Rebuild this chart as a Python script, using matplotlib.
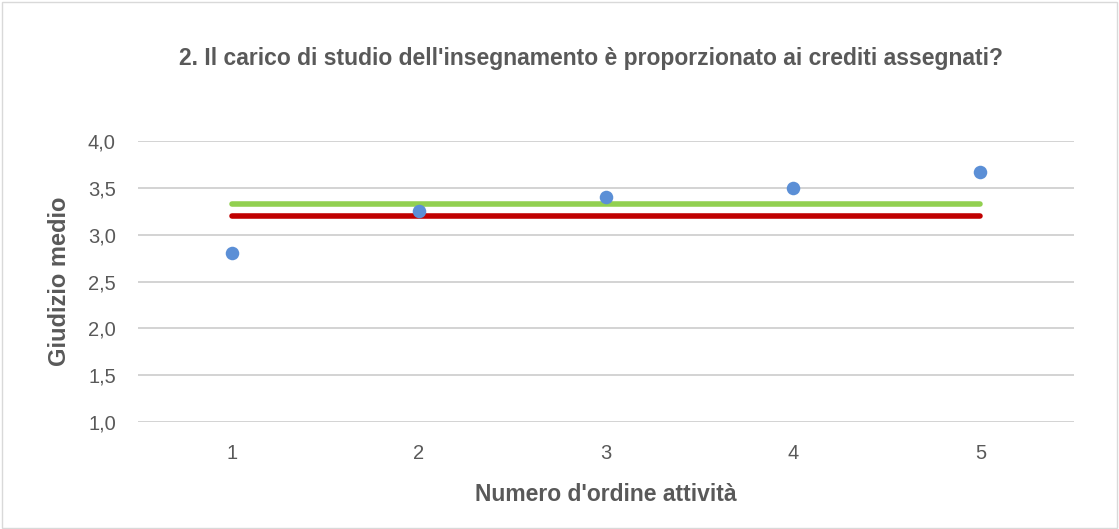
import matplotlib
matplotlib.use('Agg')
import matplotlib.pyplot as plt
from matplotlib.patches import Rectangle

plt.rcParams['font.family'] = ['Liberation Sans', 'DejaVu Sans']

activities = [1, 2, 3, 4, 5]
scores = [2.80, 3.25, 3.40, 3.50, 3.67]
green_level = [3.33, 3.33, 3.33, 3.33, 3.33]
red_level = [3.20, 3.20, 3.20, 3.20, 3.20]
y_ticks = [1.0, 1.5, 2.0, 2.5, 3.0, 3.5, 4.0]

text_col = '#595959'

fig = plt.figure(figsize=(11.19, 5.29), dpi=100)
fig.patches.append(Rectangle((0.0015, 0.002), 0.997, 0.995, transform=fig.transFigure,
                             fill=False, edgecolor='#d9d9d9', linewidth=1))
ax = fig.add_axes([138 / 1119, 107 / 529, 936 / 1119, 281 / 529])

ax.plot(activities, green_level, color='#92d050', linewidth=4, solid_capstyle='round', zorder=2)
ax.plot(activities, red_level, color='#c00000', linewidth=4, solid_capstyle='round', zorder=2)
ax.scatter(activities, scores, s=95, color='#5b8fd6', zorder=3, linewidths=0)

ax.set_xlim(0.5, 5.5)
ax.set_ylim(1.0, 4.0)
ax.set_yticks(y_ticks)
ax.set_yticklabels([f'{v:.1f}'.replace('.', ',') for v in y_ticks])
ax.set_xticks(activities)
ax.grid(axis='y', color='#d0d0d0', linewidth=1.3)
ax.set_axisbelow(True)
for s in ax.spines.values():
    s.set_visible(False)
ax.tick_params(length=0, labelsize=14.5, labelcolor=text_col)
ax.tick_params(axis='y', pad=16)
ax.tick_params(axis='x', pad=16)

ax.set_xlabel("Numero d'ordine attività", fontsize=16.5, fontweight='bold', color=text_col, labelpad=14)
ax.set_ylabel('Giudizio medio', fontsize=17, fontweight='bold', color=text_col, labelpad=12)
fig.text(0.528, 1 - 58 / 529, "2. Il carico di studio dell'insegnamento è proporzionato ai crediti assegnati?",
         ha='center', va='center', fontsize=16.5, fontweight='bold', color=text_col)

fig.savefig('out.png', dpi=100)
